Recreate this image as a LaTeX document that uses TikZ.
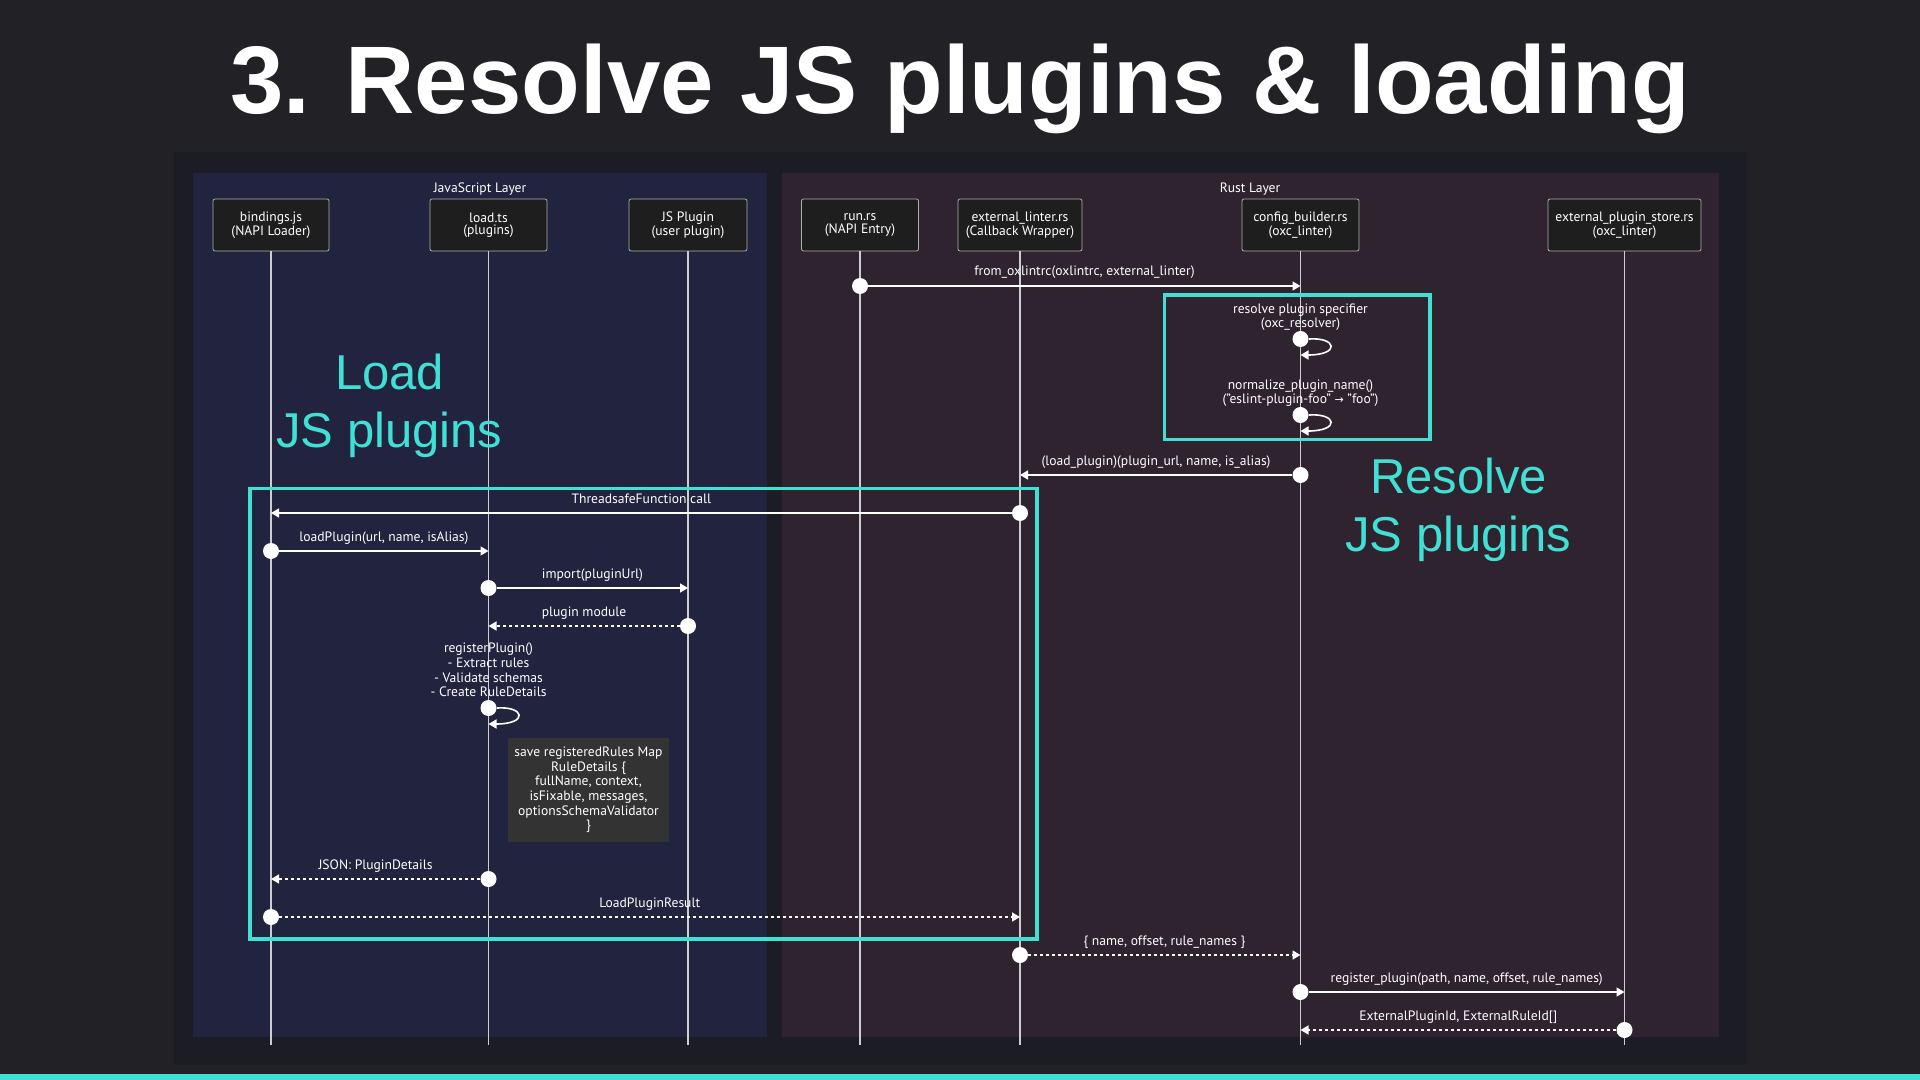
\documentclass[tikz,border=0pt]{standalone}
\usepackage{fontspec}
\setmainfont{PT Sans}
\newfontfamily\headfont{Liberation Sans}
\newfontfamily\symfont{DejaVu Sans}
\usetikzlibrary{arrows.meta,positioning}

\definecolor{pagebg}{RGB}{33,33,38}
\definecolor{panelbg}{RGB}{27,28,36}
\definecolor{jsbg}{RGB}{34,35,63}
\definecolor{rustbg}{RGB}{46,35,46}
\definecolor{actorbg}{RGB}{30,30,30}
\definecolor{actorline}{RGB}{175,175,175}
\definecolor{lifeline}{RGB}{205,205,210}
\definecolor{hilite}{RGB}{64,224,213}
\definecolor{notebg}{RGB}{51,51,51}

\begin{document}
\begin{tikzpicture}
	[x=0.5pt,y=-0.5pt,
	every node/.style={text=white,font=\fontsize{6.8}{7.3}\selectfont},
	actor/.style={draw=actorline,fill=actorbg,rounded corners=1pt,align=center,minimum height=26pt,inner sep=2pt,font=\fontsize{6.8}{6.2}\selectfont},
	life/.style={draw=lifeline,line width=0.7pt},
	dot/.style={circle,fill=white,minimum size=8pt,inner sep=0pt},
	msg/.style={draw=white,line width=0.8pt,-{Triangle[length=4pt,width=4.5pt]}},
	reply/.style={msg,dash pattern=on 1.5pt off 1.5pt},
	lbl/.style={midway,anchor=base,yshift=5pt},
	note/.style={fill=notebg,align=center,minimum width=80.5pt,minimum height=52pt},
	frame/.style={draw=hilite,line width=1.8pt},
	biglabel/.style={text=hilite,font=\headfont\fontsize{24.5}{28.8}\selectfont,align=center}]
	\fill[pagebg] (0,0) rectangle (1920,1080);
	\useasboundingbox (0,0) rectangle (1920,1080);
	\fill[hilite] (0,1074) rectangle (1920,1080);
	\fill[panelbg] (174,152) rectangle (1747,1065);
	\fill[jsbg] (193,173) rectangle (767,1037);
	\fill[rustbg] (782,173) rectangle (1719,1037);
	
	\node[font=\headfont\bfseries\fontsize{48}{54}\selectfont] (title) at (960,89) {3. Resolve JS plugins \& loading};
	\node (jslayer) at (480,189) {JavaScript Layer};
	\node (rustlayer) at (1250,189) {Rust Layer};
	
	\foreach \name/\x/\w/\txt in {bind/271/58/{bindings.js\\(NAPI Loader)},
		load/488.5/58.5/{load.ts\\(plugins)},
		plugin/688/59/{JS Plugin\\(user plugin)},
		run/860/58.5/{run.rs\\(NAPI Entry)},
		ext/1020/62/{external\_linter.rs\\(Callback Wrapper)},
		cfg/1300.5/58.5/{config\_builder.rs\\(oxc\_linter)},
		store/1624.5/76.5/{external\_plugin\_store.rs\\(oxc\_linter)}}
	{
		\node[actor,minimum width=\w pt] (\name) at (\x,225) {\txt};
		\coordinate (\name-foot) at (\x,1045);
		\draw[life] (\name) -- (\name-foot);
	}
	
	\draw[frame] (1164.5,295) rectangle (1430,439.6);
	\draw[frame] (250,488.6) rectangle (1037,939);
	
	\node[note] (rules) at (588.5,790) {save registeredRules Map\\RuleDetails \{\\fullName, context,\\isFixable, messages,\\optionsSchemaValidator\\\}};
	
	\foreach \src/\dst/\y/\kind/\txt [count=\i] in {run/cfg/286/msg/{from\_oxlintrc(oxlintrc, external\_linter)},
		cfg/ext/475/msg/{(load\_plugin)(plugin\_url, name, is\_alias)},
		ext/bind/513/msg/{ThreadsafeFunction call},
		bind/load/551/msg/{loadPlugin(url, name, isAlias)},
		load/plugin/588/msg/{import(pluginUrl)},
		plugin/load/626/reply/{plugin module},
		load/bind/879/reply/{JSON: PluginDetails},
		bind/ext/917/reply/{LoadPluginResult},
		ext/cfg/955/reply/{\{ name, offset, rule\_names \}},
		cfg/store/992/msg/{register\_plugin(path, name, offset, rule\_names)},
		store/cfg/1030/reply/{ExternalPluginId, ExternalRuleId[]}}
	{
		\node[dot] (d\i) at (\src |- 0,\y) {};
		\coordinate (t\i) at (\dst |- 0,\y);
		\draw[\kind] (d\i) -- (t\i) node[lbl] {\txt};
	}
	
	\foreach \who/\y/\back/\ty/\txt [count=\i from 12] in {cfg/339/355/317/{resolve plugin specifier\\(oxc\_resolver)},
		cfg/415/431/393/{normalize\_plugin\_name()\\("eslint-plugin-foo" {\symfont\fontsize{5.5}{7.3}\selectfont →} "foo")},
		load/708/724/670/{registerPlugin()\\- Extract rules\\- Validate schemas\\- Create RuleDetails}}
	{
		\node[align=center] (n\i) at (\who |- 0,\ty) {\txt};
		\node[dot] (d\i) at (\who |- 0,\y) {};
		\coordinate (t\i) at (\who |- 0,\back);
		\draw[msg] (d\i.east) .. controls +(28,-2) and +(40,0) .. (t\i);
	}
	
	\node[biglabel] (loadjs) at (389.5,406) {Load\\JS plugins};
	\node[biglabel] (resolvejs) at (1458.5,510) {Resolve\\JS plugins};
\end{tikzpicture}
\end{document}
